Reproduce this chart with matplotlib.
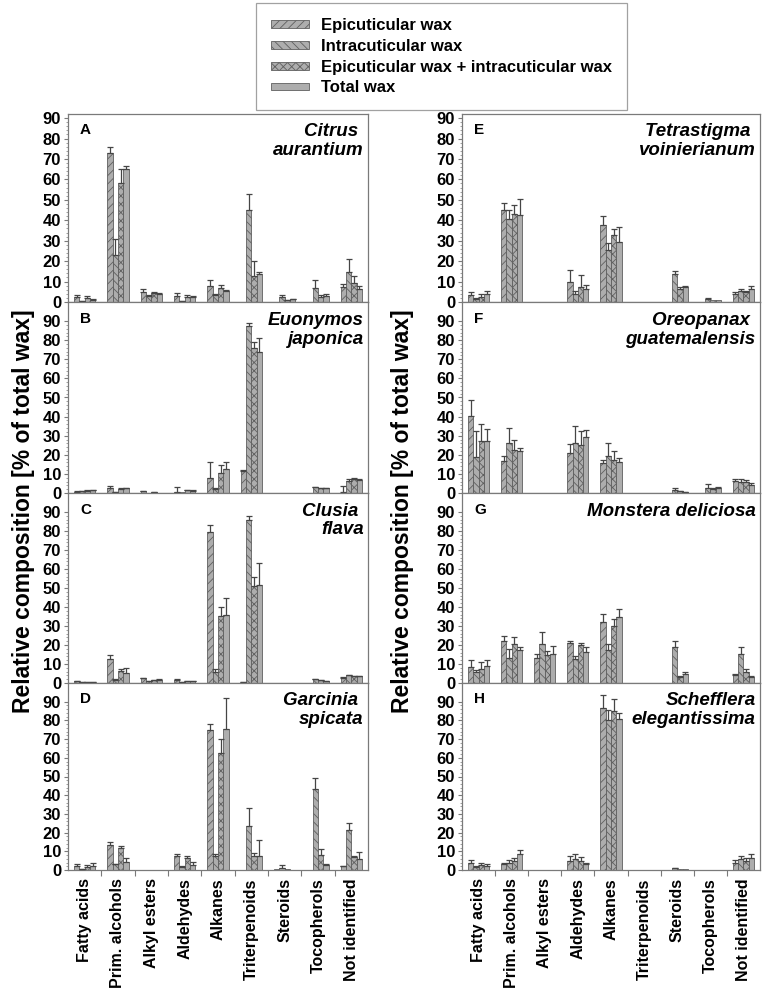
import matplotlib
matplotlib.use("Agg")
import matplotlib.pyplot as plt
import numpy as np
from matplotlib.patches import Patch

plt.rcParams['font.family'] = ['Liberation Sans', 'DejaVu Sans']
plt.rcParams['hatch.linewidth'] = 0.6

categories = ["Fatty acids", "Prim. alcohols", "Alkyl esters", "Aldehydes", "Alkanes",
              "Triterpenoids", "Steroids", "Tocopherols", "Not identified"]
series_names = ["Epicuticular wax", "Intracuticular wax",
                "Epicuticular wax + intracuticular wax", "Total wax"]

# ---- Panel A: Citrus aurantium ----
A_epi   = [2.5, 73, 5, 3, 8, 0, 0, 0, 7.5]
A_intra = [0.3, 23, 3, 0.3, 3.5, 45, 2.5, 7, 14.5]
A_comb  = [2.2, 58, 4.5, 2.5, 7, 12.5, 0.8, 2.5, 9.5]
A_tot   = [1.0, 65, 4, 2.5, 5.5, 13.5, 1.3, 3, 6.5]
A_epi_err   = [1, 3, 1.5, 1.2, 3, 0, 0, 0, 1.5]
A_intra_err = [0.2, 8, 0.5, 0.2, 0.3, 8, 0.8, 4, 6.5]
A_comb_err  = [0.5, 7, 0.5, 1, 1.5, 7.5, 0.2, 0.8, 3]
A_tot_err   = [0.3, 1.5, 0.3, 0.5, 0.5, 1, 0.2, 0.8, 1.5]

# ---- Panel B: Euonymos japonica ----
B_epi   = [0.5, 2.5, 0.8, 0.3, 8, 11.5, 0.2, 0, 0.5]
B_intra = [0.8, 0.3, 0.1, 0.3, 2, 87.5, 0.2, 3, 6.5]
B_comb  = [1.2, 2, 0.4, 1.5, 10.5, 76, 0.2, 2.5, 7.5]
B_tot   = [1.5, 2.5, 0.2, 1.2, 12.5, 74, 0.2, 2.5, 7]
B_epi_err   = [0.3, 1, 0.3, 3, 8, 0.3, 0, 0, 3]
B_intra_err = [0.2, 0.1, 0, 0, 0.5, 1.5, 0, 0.3, 1]
B_comb_err  = [0.2, 0.5, 0.1, 0.3, 4, 3, 0, 0.3, 0.3]
B_tot_err   = [0.3, 0.3, 0, 0.3, 3.5, 7, 0, 0.3, 0.3]

# ---- Panel C: Clusia flava ----
C_epi   = [0.8, 12.5, 2.5, 1.8, 79.5, 0.5, 0, 0, 2.8]
C_intra = [0.5, 1.8, 0.8, 0.4, 6, 86, 0, 2, 4]
C_comb  = [0.4, 6.3, 1.5, 1, 35.5, 51, 0, 1.5, 3.5]
C_tot   = [0.3, 5.5, 1.8, 1, 36, 51.5, 0, 1, 3.5]
C_epi_err   = [0.3, 2.2, 0.3, 0.3, 3.5, 0.1, 0, 0, 0.3]
C_intra_err = [0.1, 0.2, 0.1, 0.1, 1.5, 2, 0, 0.3, 0.3]
C_comb_err  = [0.1, 1.2, 0.2, 0.2, 4.5, 5, 0, 0.2, 0.3]
C_tot_err   = [0.1, 2.5, 0.2, 0.2, 8.5, 11.5, 0, 0.2, 0.3]

# ---- Panel D: Garcinia spicata ----
D_epi   = [2, 13.5, 0, 7.7, 75, 0, 0.3, 0, 2]
D_intra = [0.5, 3, 0, 1.8, 7.5, 23.5, 1.2, 43.5, 21.5]
D_comb  = [1.5, 12, 0, 6.5, 62.5, 7.5, 0.3, 8, 7]
D_tot   = [2, 4.5, 0, 2.7, 75.5, 7.5, 0.2, 2.5, 5.7]
D_epi_err   = [1, 1.5, 0, 1, 3, 0, 0, 0, 0.2]
D_intra_err = [0.2, 0.3, 0, 0.3, 1, 9.5, 1.5, 5.5, 3.5]
D_comb_err  = [1, 1, 0, 1, 7.5, 1.5, 0, 3, 0.5]
D_tot_err   = [1.5, 2, 0, 1.8, 16.5, 8.5, 0, 0.5, 3.8]

# ---- Panel E: Tetrastigma voinierianum ----
E_epi   = [3.5, 45, 0, 10, 37.5, 0, 0, 0, 4]
E_intra = [1.5, 40.5, 0, 4, 25.5, 0, 13.5, 1.5, 5.5]
E_comb  = [2.5, 43, 0, 7.5, 33, 0, 6.5, 0.8, 5]
E_tot   = [4, 42.5, 0, 6.5, 29.5, 0, 7.5, 0.8, 6.5]
E_epi_err   = [1.5, 3.5, 0, 5.5, 4.5, 0, 0, 0, 1]
E_intra_err = [0.5, 4.5, 0, 1.5, 3.5, 0, 1.5, 0.4, 1]
E_comb_err  = [1.5, 4.5, 0, 5.5, 2.5, 0, 1, 0, 0.5]
E_tot_err   = [1.5, 8, 0, 2, 7, 0, 0.5, 0, 1.5]

# ---- Panel F: Oreopanax guatemalensis ----
F_epi   = [40.5, 17, 0, 21, 15.5, 0, 0, 0, 6.5]
F_intra = [19, 26, 0, 26, 19.5, 0, 1.5, 2.5, 6]
F_comb  = [27, 22.7, 0, 25, 17.5, 0, 1, 2, 5.5]
F_tot   = [27, 21.8, 0, 29.5, 16, 0, 0.5, 2.8, 4]
F_epi_err   = [8, 2.5, 0, 4.5, 2, 0, 0, 0, 1]
F_intra_err = [13.5, 8, 0, 9, 6.5, 0, 1, 2, 1.5]
F_comb_err  = [9, 4.8, 0, 7.5, 4.5, 0, 0.3, 0.5, 1.5]
F_tot_err   = [6.5, 1.8, 0, 3.5, 2.5, 0, 0.2, 0.5, 1]

# ---- Panel G: Monstera deliciosa ----
G_epi   = [8.5, 22.3, 13, 20.8, 32, 0, 0, 0, 4]
G_intra = [6, 13, 20.3, 12.5, 17.2, 0, 18.7, 0, 15.4]
G_comb  = [7.5, 20.5, 15, 19.8, 29.8, 0, 3, 0, 6]
G_tot   = [8.8, 17.2, 15.5, 16.3, 34.8, 0, 4.5, 0, 3]
G_epi_err   = [3.5, 2.5, 2.5, 1.5, 4.5, 0, 0, 0, 1]
G_intra_err = [1, 5, 6.8, 1.5, 3.5, 0, 3.5, 0, 3.5]
G_comb_err  = [3.5, 3.5, 2, 1.5, 4, 0, 0.5, 0, 1.5]
G_tot_err   = [3.5, 1.8, 4, 2.7, 4, 0, 1.5, 0, 0.5]

# ---- Panel H: Schefflera elegantissima ----
H_epi   = [3.5, 3, 0, 5, 86.5, 0, 0, 0, 4]
H_intra = [1.5, 4, 0, 6, 80.3, 0, 1, 0, 6]
H_comb  = [2.5, 5, 0, 5, 85, 0, 0.5, 0, 5]
H_tot   = [2, 8.5, 0, 3, 80.7, 0, 0.5, 0, 6.5]
H_epi_err   = [2, 1, 0, 2.5, 7, 0, 0, 0, 1.5]
H_intra_err = [0.5, 1.5, 0, 2.5, 5.3, 0, 0.3, 0, 1.5]
H_comb_err  = [1.5, 1.5, 0, 2, 6.3, 0, 0, 0, 1.5]
H_tot_err   = [1, 2, 0, 1, 3.2, 0, 0, 0, 2]

panel_letters = ["A", "B", "C", "D", "E", "F", "G", "H"]
species = ["Citrus \naurantium", "Euonymos\njaponica", "Clusia \nflava", "Garcinia \nspicata",
           "Tetrastigma \nvoinierianum", "Oreopanax \nguatemalensis", "Monstera deliciosa",
           "Schefflera\nelegantissima"]

panels = [
    ([A_epi, A_intra, A_comb, A_tot], [A_epi_err, A_intra_err, A_comb_err, A_tot_err]),
    ([B_epi, B_intra, B_comb, B_tot], [B_epi_err, B_intra_err, B_comb_err, B_tot_err]),
    ([C_epi, C_intra, C_comb, C_tot], [C_epi_err, C_intra_err, C_comb_err, C_tot_err]),
    ([D_epi, D_intra, D_comb, D_tot], [D_epi_err, D_intra_err, D_comb_err, D_tot_err]),
    ([E_epi, E_intra, E_comb, E_tot], [E_epi_err, E_intra_err, E_comb_err, E_tot_err]),
    ([F_epi, F_intra, F_comb, F_tot], [F_epi_err, F_intra_err, F_comb_err, F_tot_err]),
    ([G_epi, G_intra, G_comb, G_tot], [G_epi_err, G_intra_err, G_comb_err, G_tot_err]),
    ([H_epi, H_intra, H_comb, H_tot], [H_epi_err, H_intra_err, H_comb_err, H_tot_err]),
]

hatches = ['////', '\\\\\\\\', 'xxxx', '']
fill = '#adadad'
edge = '#5f5f5f'
ecol = '#454545'
spine_col = '#7a7a7a'

W, H = 765, 997
fig = plt.figure(figsize=(W / 100, H / 100), dpi=100)

col_x = [68, 462]
col_w = [300, 298]
rows = [(114, 302), (302, 493), (493, 683), (683, 870)]

n = len(categories)
xc = np.arange(n)
bw = 0.16

for p, (vals, errs) in enumerate(panels):
    col = p // 4
    row = p % 4
    top, bot = rows[row]
    ax = fig.add_axes([col_x[col] / W, 1 - bot / H, col_w[col] / W, (bot - top) / H])
    for j in range(4):
        x = xc + (j - 1.5) * bw
        v = np.array(vals[j], dtype=float)
        e = np.array(errs[j], dtype=float)
        ax.bar(x, v, width=bw, color=fill, edgecolor=edge, linewidth=0.6,
               hatch=hatches[j], zorder=2)
        m = e > 0
        ax.errorbar(x[m], v[m], yerr=[np.zeros(m.sum()), e[m]], fmt='none',
                    ecolor=ecol, elinewidth=0.9, capsize=2.5, capthick=0.9, zorder=3)
    ax.set_xlim(-0.5, n - 0.5)
    ax.set_ylim(0, 92 if row == 0 else 100)
    ax.set_yticks(np.arange(0, 91, 10))
    ax.set_yticks(np.arange(0, 92, 2), minor=True)
    ax.tick_params(axis='y', which='major', labelsize=12, length=3, width=0.8,
                   color=spine_col, pad=2)
    ax.tick_params(axis='y', which='minor', length=1.5, width=0.5, color=spine_col)
    for lab in ax.get_yticklabels():
        lab.set_fontweight('bold')
    ax.set_xticks(np.arange(0.5, n - 1, 1.0), minor=True)
    ax.tick_params(axis='x', which='minor', length=4, width=0.8, color=spine_col)
    ax.set_xticks(xc)
    if row == 3:
        ax.set_xticklabels(categories, rotation=90, fontsize=11.5, fontweight='bold')
        ax.tick_params(axis='x', which='major', length=0, pad=6)
    else:
        ax.set_xticklabels([])
        ax.tick_params(axis='x', which='major', length=0)
    for s in ax.spines.values():
        s.set_color(spine_col)
        s.set_linewidth(0.9)
    ax.text(0.04, 0.95, panel_letters[p], transform=ax.transAxes, ha='left', va='top',
            fontsize=11, fontweight='bold')
    ax.text(0.985, 0.95, species[p], transform=ax.transAxes, ha='right', va='top',
            fontsize=13.5, fontweight='bold', style='italic', linespacing=1.15,
            multialignment='right')

ylabel = "Relative composition [% of total wax]"
fig.text(24 / W, 1 - 511 / H, ylabel, rotation=90, ha='center', va='center',
         fontsize=16.5, fontweight='bold')
fig.text(402 / W, 1 - 511 / H, ylabel, rotation=90, ha='center', va='center',
         fontsize=16.5, fontweight='bold')

handles = [Patch(facecolor=fill, edgecolor=edge, hatch=hatches[j], linewidth=0.6)
           for j in range(4)]
leg = fig.legend(handles, series_names, loc='upper left',
                 bbox_to_anchor=(256 / W, 1 - 3 / H),
                 prop={'weight': 'bold', 'size': 12}, frameon=True, fancybox=False,
                 handlelength=2.3, handleheight=0.35, labelspacing=0.35,
                 borderpad=0.9, handletextpad=0.7, borderaxespad=0)
leg.get_frame().set_edgecolor('#8a8a8a')
leg.get_frame().set_linewidth(0.9)

fig.savefig("out.png", dpi=100)
